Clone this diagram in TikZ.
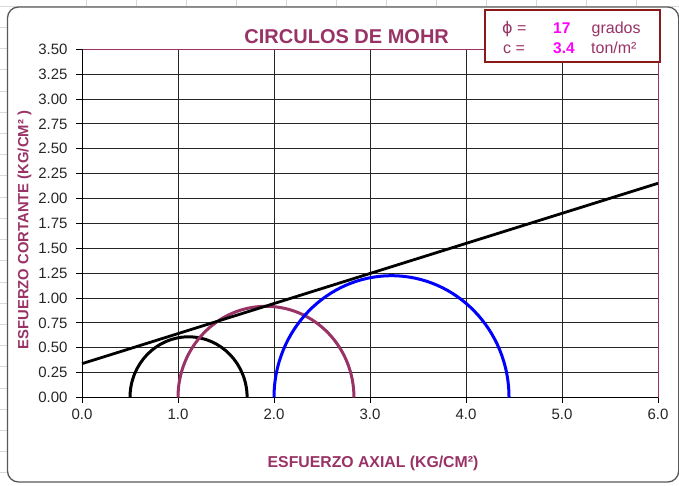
\documentclass[tikz,border=0pt]{standalone}
\usepackage{fontspec}
\setmainfont{Liberation Sans}
\newfontfamily\dejavu{DejaVu Sans}
\definecolor{mauve}{HTML}{993366}
\definecolor{magentanum}{HTML}{FF00FF}
\definecolor{maroonbox}{HTML}{8B1A1A}
\definecolor{sheetgray}{HTML}{D9D9D9}
\tikzset{
  sheet/.style={draw=sheetgray, line width=0.8pt},
  gridl/.style={draw=black!85, line width=0.9pt},
  axisl/.style={draw=black, line width=0.9pt},
  ticklab/.style={inner sep=0pt, text=black!85, font=\fontsize{15}{18}\selectfont},
  leglab/.style={inner sep=0pt, anchor=base west, text=mauve, font=\fontsize{16}{19}\selectfont},
  legnum/.style={inner sep=0pt, anchor=base west, text=magentanum, font=\fontsize{15.5}{19}\selectfont\bfseries},
  curve/.style={line width=3pt},
}
\begin{document}
\begin{tikzpicture}[x=1pt,y=1pt]
\useasboundingbox (0,0) rectangle (679,485);
% spreadsheet gridlines around the chart
\draw[sheet] (0,478.7) -- (679,478.7);
\foreach \i in {0,...,11} \draw[sheet] ({86.7+50*\i},485) -- ({86.7+50*\i},477);
\foreach \k in {0,...,21} \draw[sheet] (0,{485-27.5-21.2*\k}) -- (8,{485-27.5-21.2*\k});
% chart area
\draw[rounded corners=11pt, draw=black!65, line width=1.3pt, fill=white] (7.5,3) rectangle (678.7,478);
% plot area
\begin{scope}[shift={(82,87.5)}, x=96pt, y=99.5pt]
  \foreach \k in {1,...,13} \draw[gridl] (0,\k*0.25) -- (6,\k*0.25);
  \foreach \i in {1,...,5} \draw[gridl] (\i,0) -- (\i,3.5);
  \draw[mauve, line width=0.9pt] (0,3.5) -- (6,3.5) -- (6,0);
  \draw[axisl] (0,3.5) -- (0,0) -- (6,0);
  \foreach \k in {0,...,14} \draw[axisl] (0,\k*0.25) -- ++(-6pt,0);
  \foreach \i in {0,...,6} \draw[axisl] (\i,0) -- ++(0,-5pt);
  \foreach \t [count=\k from 0] in {0.00,0.25,0.50,0.75,1.00,1.25,1.50,1.75,2.00,2.25,2.50,2.75,3.00,3.25,3.50}
    \node[ticklab, anchor=east, xshift=-14.3pt] (yl\k) at (0,\k*0.25) {\t};
  \foreach \t [count=\i from 0] in {0.0,1.0,2.0,3.0,4.0,5.0,6.0}
    \node[ticklab, anchor=north, yshift=-11.5pt] (xl\i) at (\i,0) {\t};
  % Mohr circles
  \draw[curve, black] (1.72,0) arc[start angle=0, end angle=180, x radius=0.61, y radius=0.61];
  \draw[curve, mauve] (2.833,0) arc[start angle=0, end angle=180, x radius=0.9165, y radius=0.9165];
  \draw[curve, blue] (4.448,0) arc[start angle=0, end angle=180, x radius=1.224, y radius=1.224];
  % failure envelope
  \coordinate (envA) at (0,0.34);
  \coordinate (envB) at (6,2.153);
  \draw[line width=2.8pt, black] (envA) -- (envB);
\end{scope}
% titles
\node[anchor=base, inner sep=0pt, text=mauve, font=\fontsize{20}{24}\selectfont\bfseries] (title) at (346.7,441) {CIRCULOS DE MOHR};
\node[anchor=base, inner sep=0pt, text=mauve, font=\fontsize{15.8}{19}\selectfont\bfseries] (xtitle) at (373,17.3) {ESFUERZO AXIAL (KG/CM²)};
\node[anchor=base, inner sep=0pt, rotate=90, text=mauve, font=\fontsize{14.8}{18}\selectfont\bfseries] (ytitle) at (28.3,255) {ESFUERZO CORTANTE (KG/CM² )};
% legend box
\draw[draw=maroonbox, line width=2pt, fill=white] (485,475) rectangle (660,423);
\node[leglab] (phi) at (502,451.7) {{\dejavu ϕ} =};
\node[leglab] (cc) at (503,431.7) {c =};
\node[legnum] (phival) at (553,451.7) {17};
\node[legnum] (cval) at (553,431.7) {3.4};
\node[leglab] (phiunit) at (591.5,451.7) {grados};
\node[leglab] (cunit) at (591,431.7) {ton/m²};
\end{tikzpicture}
\end{document}
